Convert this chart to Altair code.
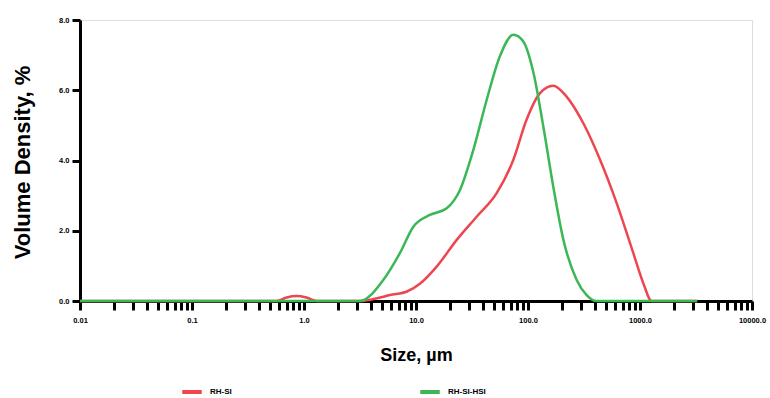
import altair as alt
import pandas as pd

# --- data ---
red_name = "RH-SI"
red_size = [0.01, 0.57, 0.7, 0.86, 1.05, 1.3, 3.16, 4.5, 5.87, 8.3, 10.9, 15.3, 23.1,
            34.8, 52.5, 74, 97, 128, 168, 221, 312, 440, 620, 872, 1072, 1270, 3240]
red_vol = [0, 0, 0.1, 0.14, 0.1, 0, 0, 0.08, 0.17, 0.27, 0.5, 0.98, 1.74,
           2.4, 3.07, 4.02, 5.16, 5.92, 6.13, 5.82, 5.06, 4.02, 2.78, 1.36, 0.5, 0, 0]

green_name = "RH-SI-HSI"
green_size = [0.01, 3.16, 5.1, 7.2, 9.5, 13.3, 18.8, 24.7, 32.5, 42.8, 56, 74, 90.8,
              112, 137, 168, 207, 272, 334, 410, 3240]
green_vol = [0, 0, 0.6, 1.37, 2.12, 2.45, 2.64, 3.16, 4.3, 5.73, 6.96, 7.58, 7.39,
             6.49, 4.97, 3.26, 1.74, 0.6, 0.17, 0, 0]

decades = [0.01, 0.1, 1, 10, 100, 1000, 10000]
decade_labels = ["0.01", "0.1", "1.0", "10.0", "100.0", "1000.0", "10000.0"]
y_ticks = [0, 2, 4, 6, 8]

rows = []
for s, v in zip(red_size, red_vol):
    rows.append({"size": s, "vol": v, "series": red_name, "order": 0})
for s, v in zip(green_size, green_vol):
    rows.append({"size": s, "vol": v, "series": green_name, "order": 1})
df = pd.DataFrame(rows)

tick_values = []
for d in decades[:-1]:
    for k in range(1, 10):
        tick_values.append(round(d * k, 6))
tick_values.append(decades[-1])

expr = "''"
for d, lab in reversed(list(zip(decades, decade_labels))):
    expr = f"abs(datum.value - {d}) < {d}*1e-6 ? '{lab}' : ({expr})"

label_font = "Liberation Sans, Arial, sans-serif"
title_font = "Liberation Sans, Arial, sans-serif"

chart = alt.Chart(df).mark_line(strokeWidth=2.5, interpolate="monotone").encode(
    x=alt.X("size:Q",
            scale=alt.Scale(type="log", domain=[0.01, 10000], nice=False),
            axis=alt.Axis(title="Size, µm", values=tick_values, labelExpr=expr,
                          labelOverlap=False, labelFlush=False,
                          tickSize=9, tickWidth=3, domainWidth=3,
                          domainColor="black", tickColor="black",
                          labelFont=label_font, labelFontSize=7.5, labelFontWeight="bold",
                          labelColor="black", labelPadding=6,
                          titleFont=title_font, titleFontSize=18, titleFontWeight="bold",
                          titleColor="black", titleY=54, titleBaseline="middle",
                          grid=False)),
    y=alt.Y("vol:Q",
            scale=alt.Scale(domain=[0, 8], nice=False),
            axis=alt.Axis(title="Volume Density, %", values=y_ticks, format=".1f",
                          tickSize=8, tickWidth=3, domainWidth=3,
                          domainColor="black", tickColor="black",
                          labelFont=label_font, labelFontSize=7.5, labelFontWeight="bold",
                          labelColor="black", labelPadding=3,
                          titleFont=title_font, titleFontSize=22, titleFontWeight="bold",
                          titleColor="black", titleX=-58, titleY=142,
                          titleAlign="center", titleBaseline="middle",
                          grid=False)),
    color=alt.Color("series:N",
                    scale=alt.Scale(domain=[red_name, green_name],
                                    range=["#ee4650", "#3cb756"]),
                    legend=alt.Legend(title=None, orient="none", direction="horizontal",
                                      legendX=100, legendY=360,
                                      symbolType="stroke", symbolStrokeWidth=4,
                                      symbolSize=380, columnPadding=180,
                                      labelFont=label_font, labelFontSize=8,
                                      labelFontWeight="bold", labelColor="black",
                                      labelOffset=6)),
    order=alt.Order("order:Q"),
    detail="series:N",
).properties(
    width=672, height=281,
    autosize=alt.AutoSizeParams(type="none"),
    padding={"left": 80, "top": 20, "right": 18, "bottom": 97},
).configure_view(stroke=None).configure(background="white")

chart.save("out.html", embed_options={"renderer": "svg", "actions": False})
